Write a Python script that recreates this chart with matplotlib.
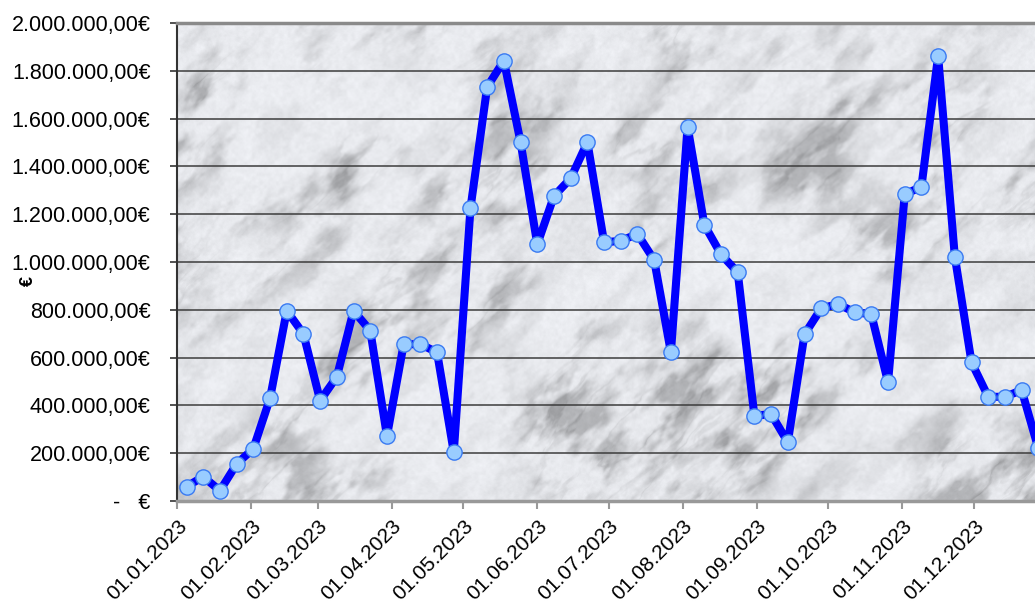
import numpy as np
import matplotlib
matplotlib.use("Agg")
import matplotlib.pyplot as plt
import matplotlib.dates as mdates
from matplotlib.ticker import FuncFormatter, MultipleLocator

plt.rcParams['font.family'] = ['Liberation Sans', 'DejaVu Sans']

# weekly totals (EUR)
dates = np.arange(np.datetime64('2023-01-05'), np.datetime64('2024-01-01'), np.timedelta64(7, 'D'))
values = [60000, 102000, 43000, 155000, 219000, 430000, 796000, 699000, 420000, 520000,
          796000, 713000, 272000, 656000, 656000, 622000, 204000, 1225000, 1733000, 1842000,
          1501000, 1074000, 1276000, 1350000, 1501000, 1082000, 1089000, 1117000, 1008000, 622000,
          1566000, 1156000, 1032000, 957000, 356000, 364000, 246000, 697000, 806000, 824000,
          790000, 781000, 497000, 1283000, 1315000, 1862000, 1022000, 580000, 436000, 436000,
          464000, 220000]
month_ticks = np.arange(np.datetime64('2023-01'), np.datetime64('2024-01'), np.timedelta64(1, 'M')).astype('datetime64[D]')


def euro(v, pos=None):
    if abs(v) < 1:
        return "-   €"
    s = f"{v:,.2f}".replace(",", "X").replace(".", ",").replace("X", ".")
    return s + "€"


def _hash(i, j, seed):
    h = np.sin(i * 127.1 + j * 311.7 + seed * 74.7) * 43758.5453
    return h - np.floor(h)


def value_noise(u, v, seed):
    i, j = np.floor(u), np.floor(v)
    fu, fv = u - i, v - j
    fu = fu * fu * (3 - 2 * fu)
    fv = fv * fv * (3 - 2 * fv)
    a = _hash(i, j, seed)
    b = _hash(i + 1, j, seed)
    c = _hash(i, j + 1, seed)
    d = _hash(i + 1, j + 1, seed)
    return a + (b - a) * fu + (c - a) * fv + (a - b - c + d) * fu * fv


def fbm(u, v, seed, octaves=5):
    out = np.zeros_like(u)
    amp, norm = 1.0, 0.0
    for k in range(octaves):
        out += amp * value_noise(u * 2 ** k, v * 2 ** k, seed + k)
        norm += amp
        amp *= 0.55
    return out / norm


def marble(h, w):
    # pale grey stone, smudges drifting bottom-left to top-right
    row, col = np.mgrid[0:h, 0:w].astype(float)
    along = (col - row) / np.sqrt(2)
    across = (col + row) / np.sqrt(2)
    cloud = fbm(along / 120.0, across / 60.0, 1)
    blotch = fbm(along / 45.0, across / 22.0, 7, octaves=4)
    warp = fbm(along / 80.0, across / 40.0, 11)
    streak = fbm(along / 90.0 + 1.2 * warp, across / 25.0 + 1.2 * warp, 23)
    vein = np.exp(-((streak - 0.5) / 0.05) ** 2)
    grit = fbm(col / 4.0, row / 4.0, 41, octaves=3)
    dark = np.clip((0.60 - blotch) / 0.25, 0, 1) ** 1.3 * np.clip((0.65 - cloud) / 0.3, 0.2, 1)
    shade = (0.94
             - 0.21 * dark
             - 0.08 * vein * np.clip((0.6 - cloud) / 0.3, 0, 1)
             - 0.06 * (grit - 0.5)
             - 0.04 * (0.5 - cloud))
    shade = np.clip(shade, 0.6, 0.975)
    rgb = np.stack([shade * 0.975, shade * 0.982, shade * 1.0], axis=-1)
    return np.clip(rgb, 0, 1)


fig = plt.figure(figsize=(10.35, 6.03), dpi=100)
ax = fig.add_axes([177 / 1035, 1 - 501 / 603, 1 - 177 / 1035, (501 - 23) / 603])

ax.imshow(marble(480, 860), extent=(0, 1, 0, 1), transform=ax.transAxes,
          aspect='auto', interpolation='bilinear', zorder=0)

ax.plot(dates, values, color='#0000ff', lw=5.8, solid_joinstyle='round',
        marker='o', ms=11, mfc='#99ccff', mec='#3a7af2', mew=1.0, zorder=3)

x0 = mdates.date2num(np.datetime64('2023-01-01'))
ax.set_xlim(x0, x0 + (1035 - 177) / 2.386)
ax.set_ylim(0, 2000000)

ax.yaxis.set_major_locator(MultipleLocator(200000))
ax.yaxis.set_major_formatter(FuncFormatter(euro))
ax.yaxis.grid(True, color='#3c3c3c', lw=1.1)
ax.set_xticks(mdates.date2num(month_ticks))
ax.xaxis.set_major_formatter(mdates.DateFormatter('%d.%m.%Y'))

ax.tick_params(axis='y', labelsize=15.5, length=5, width=1.2, color='#333333', pad=14)
ax.tick_params(axis='x', labelsize=15, length=6, width=1.5, color='#999999', pad=5)
for lab in ax.get_xticklabels():
    lab.set_rotation(45)
    lab.set_ha('right')
    lab.set_va('top')
    lab.set_rotation_mode('anchor')

ax.spines['right'].set_visible(False)
ax.spines['left'].set_color('#333333')
ax.spines['left'].set_linewidth(1.5)
ax.spines['top'].set_color('#8a8a8a')
ax.spines['top'].set_linewidth(2.5)
ax.spines['bottom'].set_color('#999999')
ax.spines['bottom'].set_linewidth(2.5)

fig.text(28 / 1035, 1 - 281 / 603, '€', rotation=90, fontsize=13, fontweight='bold',
         ha='center', va='center')

fig.savefig('out.png', dpi=100)
